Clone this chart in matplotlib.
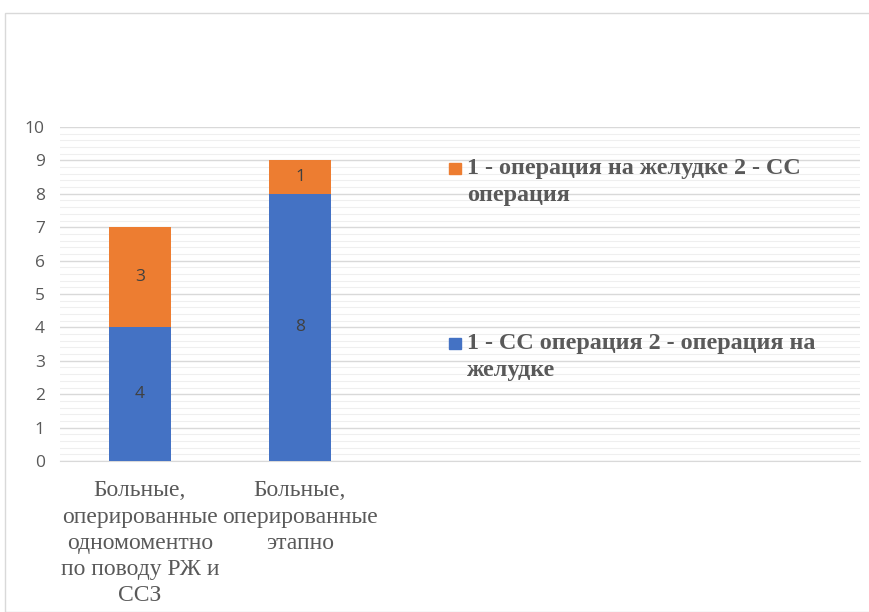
import matplotlib.pyplot as plt
from matplotlib.patches import Rectangle
from matplotlib.ticker import MultipleLocator

categories = ["Больные,\nоперированные\nодномоментно\nпо поводу РЖ и\nССЗ",
              "Больные,\nоперированные\nэтапно"]
first_cc = [4, 8]        # 1 - СС операция 2 - операция на желудке
first_stomach = [3, 1]   # 1 - операция на желудке 2 - СС операция
series_names = ["1 - операция на желудке 2 - СС\nоперация",
                "1 - СС операция 2 - операция на\nжелудке"]

blue = "#4472C4"
orange = "#ED7D31"
gray = "#595959"

fig = plt.figure(figsize=(8.69, 6.12), dpi=100)
W, H = 869, 612

# рамка области диаграммы
fig.patches.append(Rectangle((5 / W, 0), 1, 1 - 13 / H, transform=fig.transFigure,
                             fill=False, edgecolor="#d9d9d9", linewidth=1))

ax = fig.add_axes([60 / W, 1 - 461 / H, 800 / W, (461 - 127) / H])
x = list(range(len(categories)))
w = 0.39
b1 = ax.bar(x, first_cc, w, color=blue, zorder=3)
b2 = ax.bar(x, first_stomach, w, bottom=first_cc, color=orange, zorder=3)
for bars in (b1, b2):
    ax.bar_label(bars, label_type="center", color="#404040", fontsize=12.5,
                 family="Open Sans")

ax.set_xlim(-0.5, 4.5)
ax.set_ylim(0, 10)
ax.yaxis.set_major_locator(MultipleLocator(1))
ax.yaxis.set_minor_locator(MultipleLocator(0.2))
ax.grid(axis="y", which="major", color="#d9d9d9", linewidth=1, zorder=0)
ax.grid(axis="y", which="minor", color="#efefef", linewidth=0.8, zorder=0)
for s in ("top", "right", "left"):
    ax.spines[s].set_visible(False)
ax.spines["bottom"].set_color("#d9d9d9")
ax.tick_params(axis="both", which="both", length=0)
ax.tick_params(axis="y", labelsize=12.5, labelcolor=gray, pad=11)
for t in ax.get_yticklabels():
    t.set_family("Open Sans")
ax.set_xticks(x)
ax.set_xticklabels(categories, family="Liberation Serif", fontsize=17,
                   color=gray, linespacing=1.32, va="top")
ax.tick_params(axis="x", pad=14)

# легенда
for (y0, col, name) in [(168, orange, series_names[0]), (343, blue, series_names[1])]:
    fig.patches.append(Rectangle((449 / W, 1 - (y0 + 6) / H), 12 / W, 11 / H,
                                 transform=fig.transFigure, color=col))
    fig.text(467 / W, 1 - (y0 - 10) / H, name, family="Liberation Serif",
             fontsize=17.4, fontweight="bold", color=gray, va="top", linespacing=1.38)

fig.savefig("out.png", dpi=100)
